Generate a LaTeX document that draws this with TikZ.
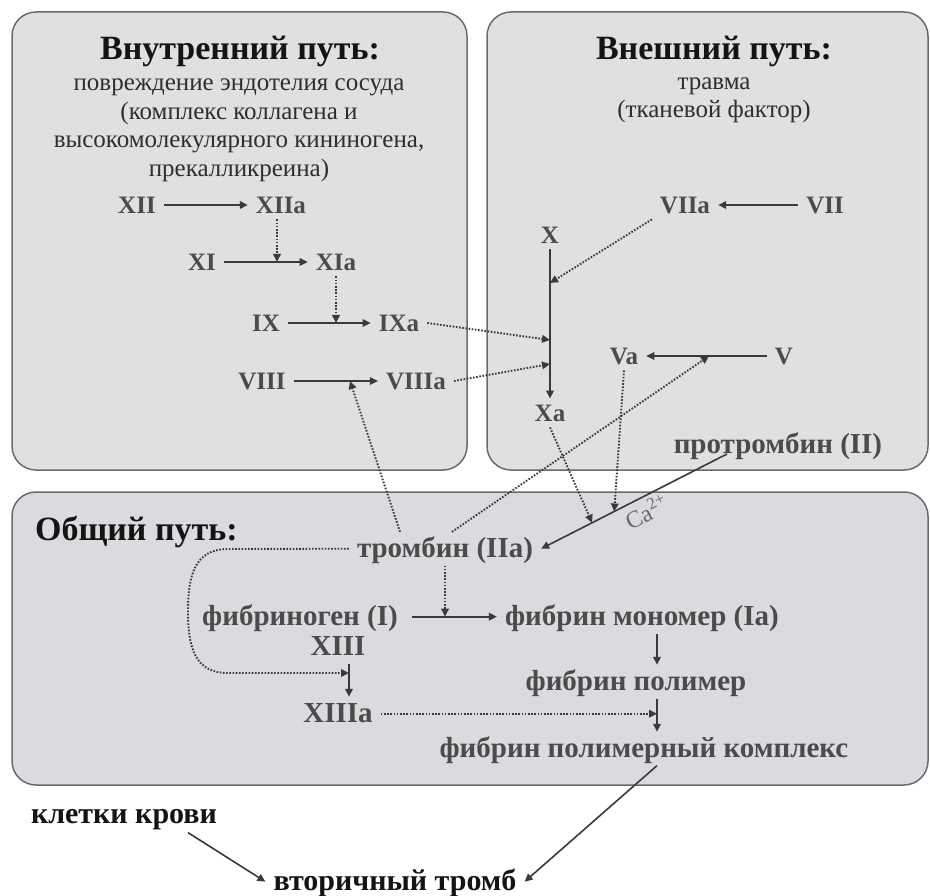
\documentclass[tikz,border=0pt]{standalone}
\usepackage{fontspec}
\setmainfont{Liberation Serif}
\usetikzlibrary{arrows.meta}

\definecolor{boxfill}{HTML}{DFE0E2}
\definecolor{boxfillc}{HTML}{DADBDE}
\definecolor{boxline}{HTML}{6B6B6B}
\definecolor{lab}{HTML}{4B4B4B}
\definecolor{arr}{HTML}{3A3A3A}
\definecolor{ttl}{HTML}{141414}
\definecolor{subc}{HTML}{2E2E2E}
\definecolor{cac}{HTML}{6A6A6A}

\tikzset{
  panel/.style={draw=boxline, line width=1.5pt, rounded corners=24pt},
  ttlnode/.style={anchor=base, inner sep=0pt, text=ttl, font=\fontsize{34}{40}\selectfont\bfseries},
  subnode/.style={anchor=base, inner sep=0pt, text=subc, font=\fontsize{25}{29}\selectfont},
  fac/.style={text=lab, font=\fontsize{25}{30}\selectfont\bfseries, inner xsep=8pt, inner ysep=6pt, text height=16.5pt, text depth=0pt},
  lbl/.style={text=lab, font=\fontsize{29}{34}\selectfont\bfseries, inner xsep=8pt, inner ysep=2pt, text height=23pt, text depth=6.4pt, anchor=base},
  lblk/.style={lbl, text=ttl, font=\fontsize{30}{34}\selectfont\bfseries},
  sarr/.style={draw=arr, line width=1.8pt, -{Triangle[length=8pt,width=7.5pt]}},
  darr/.style={draw=arr, line width=1.9pt, dash pattern=on 1.6pt off 1.6pt, -{Triangle[length=8pt,width=7.5pt]}},
  catext/.style={text=cac, font=\fontsize{24}{26}\selectfont, inner sep=1pt},
}

\begin{document}
\begin{tikzpicture}[x=1pt,y=-1pt]
\fill[white] (0,0) rectangle (930,896);
\useasboundingbox (0,0) rectangle (930,896);

% panels
\path[panel, fill=boxfill] (12,12) rectangle (467,470);
\path[panel, fill=boxfill] (487,12) rectangle (928,470);
\path[panel, fill=boxfillc] (12,492) rectangle (928,785);

% intrinsic pathway header
\node[ttlnode] (t1) at (240,60) {Внутренний путь:};
\node[subnode] (s1a) at (239,91) {повреждение эндотелия сосуда};
\node[subnode] (s1b) at (239,120) {(комплекс коллагена и};
\node[subnode] (s1c) at (239,148) {высокомолекулярного кининогена,};
\node[subnode] (s1d) at (239,177) {прекалликреина)};

% extrinsic pathway header
\node[ttlnode] (t2) at (714,60) {Внешний путь:};
\node[subnode] (s2a) at (714,90) {травма};
\node[subnode] (s2b) at (714,118) {(тканевой фактор)};

% common pathway header
\node[ttlnode, anchor=base west] (t3) at (35,540) {Общий путь:};

% intrinsic factors
\node[fac] (XII) at (137,205) {XII};
\node[fac] (XIIa) at (281,205) {XIIa};
\node[fac] (XI) at (202,262) {XI};
\node[fac] (XIa) at (336,262) {XIa};
\node[fac] (IX) at (266,323) {IX};
\node[fac] (IXa) at (399,323) {IXa};
\node[fac] (VIII) at (262,381) {VIII};
\node[fac] (VIIIa) at (416,381) {VIIIa};

% extrinsic factors
\node[fac] (VIIa) at (685,205) {VIIa};
\node[fac] (VII) at (825,205) {VII};
\node[fac] (X) at (550,235) {X};
\node[fac] (Xa) at (550,413) {Xa};
\node[fac] (Va) at (624,356) {Va};
\node[fac] (V) at (784,356) {V};
\node[lbl] (pro) at (778,453) {протромбин (II)};

% common pathway
\node[lbl] (thr) at (445,557) {тромбин (IIa)};
\node[lbl] (fib) at (300,625) {фибриноген (I)};
\node[lbl] (mono) at (642,625) {фибрин мономер (Ia)};
\node[lbl] (poly) at (636,690) {фибрин полимер};
\node[lbl] (cx) at (644,757) {фибрин полимерный комплекс};
\node[lbl] (XIII) at (338,655) {XIII};
\node[lbl] (XIIIa) at (338,722) {XIIIa};

% outside
\node[lblk] (kl) at (124,823) {клетки крови};
\node[lblk] (vt) at (395,890) {вторичный тромб};

% helper coordinates
\coordinate (xin1) at (550,283);
\coordinate (xin2) at (550,340);
\coordinate (xin3) at (550,364);
\coordinate (vin) at (350,381);
\coordinate (vin2) at (709,356);
\coordinate (col) at (657,0);
\coordinate (col2) at (349,0);
\coordinate (col3) at (277,0);
\coordinate (lp) at (349,673);
\path (pro.base) ++(-51,1) coordinate (proS);
\path (proS) -- (thr.east) coordinate[pos=0.726] (ca1) coordinate[pos=0.607] (ca2);

% intrinsic connectors
\draw[sarr] (XII) -- (XIIa);
\draw[sarr] (XI) -- (XIa);
\draw[sarr] (IX) -- (IXa);
\draw[sarr] (VIII) -- (VIIIa);
\draw[darr] (XIIa.south -| col3) -- (XI.east -| col3);
\draw[darr] (XIa.south) -- (XIa.south |- IX.east);

% extrinsic connectors
\draw[sarr] (VII) -- (VIIa);
\draw[sarr] (X) -- (Xa);
\draw[sarr] (V) -- (Va);
\draw[darr] (VIIa.south west) -- (xin1);
\draw[darr] (IXa.east) -- (xin2);
\draw[darr] (VIIIa.east) -- (xin3);

% prothrombin -> thrombin
\draw[sarr, line width=1.6pt] (proS) -- (thr.east);
\path (thr.east) -- (proS) node[catext, pos=0.53, sloped, below=3pt] (ca) {Ca\textsuperscript{2+}};
\draw[darr] (Xa.south) -- (ca1);
\draw[darr] (Va.south) -- (ca2);

% thrombin feedback
\draw[darr] (thr.north) ++(-45,0) -- (vin);
\draw[darr] (thr.north) ++(7,0) -- (vin2);
\draw[darr] (thr.south) -- (thr.south |- fib.east);
\draw[darr] (thr.west) -- (228,549) .. controls (195,549) and (188,575) .. (188,611)
  .. controls (188,648) and (195,673) .. (228,673) -- (lp);

% common pathway connectors
\draw[sarr, shorten <=6pt] (fib) -- (mono);
\draw[sarr] (mono.south -| col) -- (poly.north -| col);
\draw[sarr] (poly.south -| col) -- (cx.north -| col);
\draw[sarr] (XIII.south -| col2) -- (XIIIa.north -| col2);
\draw[darr] (XIIIa.east) -- (XIIIa.east -| col);

% to secondary thrombus
\draw[sarr, line width=1.6pt] (kl.south) ++(64,1) -- (vt.west);
\draw[sarr, line width=1.6pt] (cx.south -| col) -- (vt.east);
\end{tikzpicture}
\end{document}
